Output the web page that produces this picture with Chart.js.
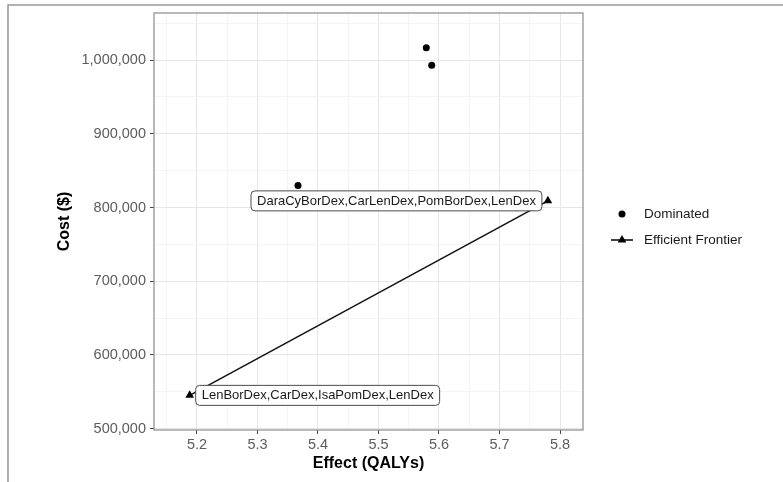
<!DOCTYPE html>
<html>
<head>
<meta charset="utf-8">
<title>Cost-effectiveness frontier</title>
<script src="https://cdn.jsdelivr.net/npm/chart.js@4"></script>
<style>
  html, body { margin: 0; padding: 0; background: #ffffff; }
  #wrap { width: 783px; height: 482px; position: relative; }
</style>
</head>
<body>
<div id="wrap"><canvas id="chart" width="783" height="482"></canvas></div>
<script>
// Strategies off the frontier (effect in QALYs, cost in $)
const dominatedEffect = [5.367, 5.579, 5.588];
const dominatedCost = [830000, 1017000, 993000];

// Strategies on the efficient frontier
const frontierEffect = [5.188, 5.780];
const frontierCost = [545000, 809000];
const frontierLabels = [
  'LenBorDex,CarDex,IsaPomDex,LenDex',
  'DaraCyBorDex,CarLenDex,PomBorDex,LenDex'
];
// which side of its point each frontier label sits on
const frontierLabelSide = ['right', 'left'];

// Axis ticks
const xTickValues = [5.2, 5.3, 5.4, 5.5, 5.6, 5.7, 5.8];
const yTickValues = [500000, 600000, 700000, 800000, 900000, 1000000];

const seriesNames = ['Dominated', 'Efficient Frontier'];

const X_MIN = 5.129, X_MAX = 5.838;
const Y_MIN = 498000, Y_MAX = 1064000;

const FONT = '"Liberation Sans", Arial, Helvetica, sans-serif';

// major ticks plus the minor gridline halfway between them, kept inside the range
function withMinor(major, lo, hi) {
  const step = major[1] - major[0];
  const out = [];
  for (let i = 0; i < major.length; i++) {
    out.push({ value: major[i], major: true });
    out.push({ value: major[i] - step / 2, major: false });
  }
  out.push({ value: major[major.length - 1] + step / 2, major: false });
  return out.filter(t => t.value >= lo && t.value <= hi).sort((a, b) => a.value - b.value);
}

const xAll = withMinor(xTickValues, X_MIN, X_MAX);
const yAll = withMinor(yTickValues, Y_MIN, Y_MAX);
const isMajorTick = (ctx) => ctx.tick && ctx.tick.major;

const gridOpts = {
  color: (ctx) => isMajorTick(ctx) ? '#e6e6e6' : '#f1f1f1',
  lineWidth: (ctx) => isMajorTick(ctx) ? 1 : 0.8,
  tickColor: (ctx) => isMajorTick(ctx) ? '#444444' : 'rgba(0,0,0,0)',
  tickLength: 4,
  drawTicks: true
};

const decorations = {
  id: 'decorations',
  beforeDraw(chart) {
    const c = chart.ctx;
    c.save();
    c.fillStyle = '#ffffff';
    c.fillRect(0, 0, chart.width, chart.height);
    // outer frame
    c.strokeStyle = '#9a9a9a';
    c.lineWidth = 1.6;
    c.beginPath();
    c.moveTo(8, 483);
    c.lineTo(8, 5);
    c.lineTo(784, 5);
    c.stroke();
    c.restore();
  },
  afterDatasetsDraw(chart) {
    const c = chart.ctx;
    const xs = chart.scales.x, ys = chart.scales.y;
    const a = chart.chartArea;
    c.save();
    // point labels for the frontier
    c.font = '13px ' + FONT;
    c.textBaseline = 'middle';
    for (let i = 0; i < frontierLabels.length; i++) {
      const px = xs.getPixelForValue(frontierEffect[i]);
      const py = ys.getPixelForValue(frontierCost[i]);
      const text = frontierLabels[i];
      const w = c.measureText(text).width + 12;
      const h = 20;
      const left = frontierLabelSide[i] === 'right' ? px + 6 : px - 6 - w;
      const top = py - h / 2;
      c.beginPath();
      c.roundRect(left, top, w, h, 4);
      c.fillStyle = '#ffffff';
      c.fill();
      c.lineWidth = 1;
      c.strokeStyle = '#4a4a4a';
      c.stroke();
      c.fillStyle = '#1a1a1a';
      c.textAlign = 'left';
      c.fillText(text, left + 6, py + 0.5);
    }
    // panel border
    c.strokeStyle = '#8a8a8a';
    c.lineWidth = 1.2;
    c.strokeRect(a.left, a.top, a.right - a.left, a.bottom - a.top);

    // axis titles
    c.fillStyle = '#000000';
    c.font = 'bold 16px ' + FONT;
    c.textAlign = 'center';
    c.textBaseline = 'middle';
    c.fillText('Effect (QALYs)', (a.left + a.right) / 2, 464);
    c.save();
    c.translate(65, (a.top + a.bottom) / 2);
    c.rotate(-Math.PI / 2);
    c.fillText('Cost ($)', 0, 0);
    c.restore();

    // legend
    c.fillStyle = '#000000';
    c.beginPath();
    c.arc(622, 214, 3.5, 0, Math.PI * 2);
    c.fill();
    c.strokeStyle = '#000000';
    c.lineWidth = 1.5;
    c.beginPath();
    c.moveTo(611, 240);
    c.lineTo(633, 240);
    c.stroke();
    const r = 5;
    c.beginPath();
    c.moveTo(622, 240 - r);
    c.lineTo(622 + r * Math.sin(2 * Math.PI / 3), 240 + r / 2);
    c.lineTo(622 - r * Math.sin(2 * Math.PI / 3), 240 + r / 2);
    c.closePath();
    c.fill();
    c.font = '13.5px ' + FONT;
    c.textAlign = 'left';
    c.fillStyle = '#1a1a1a';
    c.fillText(seriesNames[0], 644, 214);
    c.fillText(seriesNames[1], 644, 240);
    c.restore();
  }
};

new Chart(document.getElementById('chart'), {
  type: 'scatter',
  data: {
    datasets: [
      {
        label: seriesNames[1],
        data: frontierEffect.map((x, i) => ({ x: x, y: frontierCost[i] })),
        showLine: true,
        borderColor: '#111111',
        borderWidth: 1.5,
        backgroundColor: '#000000',
        pointStyle: 'triangle',
        pointRadius: 5,
        pointBorderWidth: 0,
        order: 2
      },
      {
        label: seriesNames[0],
        data: dominatedEffect.map((x, i) => ({ x: x, y: dominatedCost[i] })),
        backgroundColor: '#000000',
        borderWidth: 0,
        pointStyle: 'circle',
        pointRadius: 3.5,
        order: 1
      }
    ]
  },
  options: {
    responsive: false,
    animation: false,
    devicePixelRatio: 1,
    layout: { padding: { left: 0, right: 200, top: 13, bottom: 0 } },
    plugins: {
      legend: { display: false },
      tooltip: { enabled: false }
    },
    scales: {
      x: {
        type: 'linear',
        min: X_MIN,
        max: X_MAX,
        afterFit(scale) { scale.height = 52; },
        afterBuildTicks(scale) { scale.ticks = xAll.map(t => ({ value: t.value, major: t.major })); },
        grid: gridOpts,
        border: { display: false },
        ticks: {
          padding: 2,
          color: '#5c5c5c',
          font: { family: FONT, size: 14.5 },
          callback: (v, i, ticks) => ticks[i].major ? v.toFixed(1) : ''
        }
      },
      y: {
        type: 'linear',
        min: Y_MIN,
        max: Y_MAX,
        afterFit(scale) { scale.width = 154; },
        afterBuildTicks(scale) { scale.ticks = yAll.map(t => ({ value: t.value, major: t.major })); },
        grid: gridOpts,
        border: { display: false },
        ticks: {
          padding: 4,
          color: '#5c5c5c',
          font: { family: FONT, size: 14.5 },
          callback: (v, i, ticks) => ticks[i].major ? v.toLocaleString('en-US') : ''
        }
      }
    }
  },
  plugins: [decorations]
});
</script>
</body>
</html>
